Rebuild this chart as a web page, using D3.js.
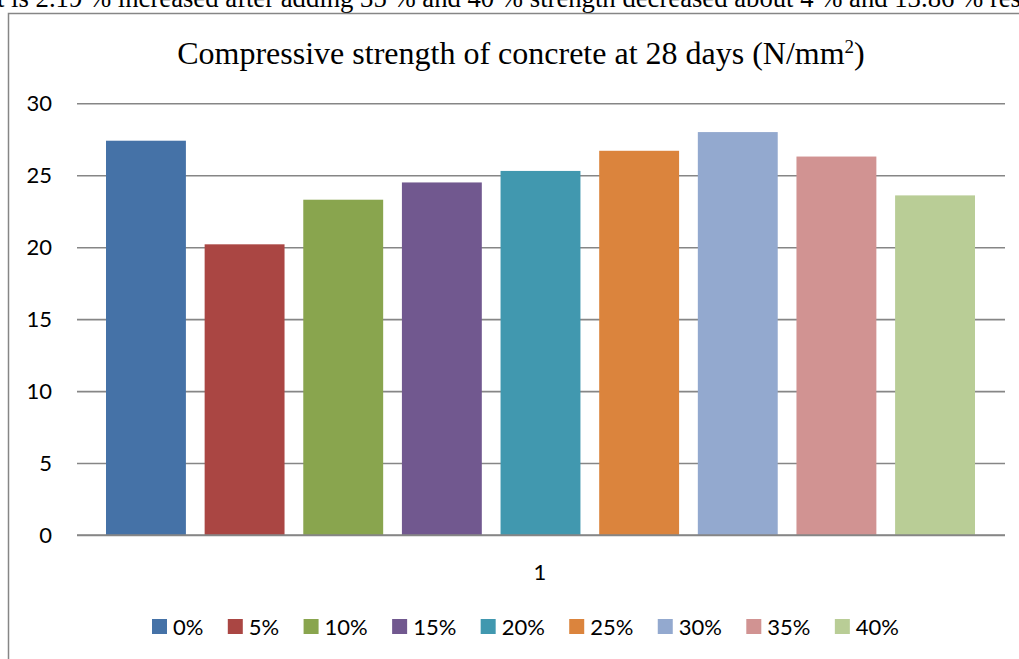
<!DOCTYPE html>
<html><head><meta charset="utf-8">
<script src="https://cdn.jsdelivr.net/npm/d3@7"></script>
<style>body{margin:0;background:#fff}svg{display:block}</style>
</head><body>
<script>
const categories = ["1"];
const seriesNames = ["0%","5%","10%","15%","20%","25%","30%","35%","40%"];
const seriesValues = [27.4, 20.2, 23.3, 24.5, 25.3, 26.7, 28.0, 26.3, 23.6];
const seriesColors = ["#4572A7","#AA4643","#89A54E","#71588F","#4198AF","#DB843D","#93A9CF","#D19392","#B9CD96"];
const yTicks = [0,5,10,15,20,25,30];
const titleText = "Compressive strength of concrete at 28 days (N/mm";
const topText = "t is 2.19 % increased after adding 35 % and 40 % strength decreased about 4 % and 13.86 % res";

const W = 1019, H = 659;
const svg = d3.select("body").append("svg").attr("width", W).attr("height", H);

// cut-off text line above the chart (cut in the reference too)
svg.append("text").attr("x", -3).attr("y", 7)
  .attr("font-family", "'Liberation Serif', serif").attr("font-size", 26.5)
  .attr("textLength", 1024).attr("lengthAdjust", "spacingAndGlyphs")
  .attr("fill", "#000").text(topText);

// chart border
svg.append("path").attr("d", `M8.5,${H} V13.5 H${W}`)
  .attr("fill", "none").attr("stroke", "#868686").attr("stroke-width", 1.5);

// title
const t = svg.append("text").attr("x", 521).attr("y", 64).attr("text-anchor", "middle")
  .attr("font-family", "'Liberation Serif', serif").attr("font-size", 32).attr("fill", "#000");
t.append("tspan").text(titleText);
t.append("tspan").attr("font-size", 19).attr("dy", -11).text("2");
t.append("tspan").attr("dy", 11).text(")");

const plotL = 77, plotR = 1005, plotT = 103.3, plotB = 535;
const y = d3.scaleLinear().domain([0, 30]).range([plotB, plotT]);
const x0 = d3.scaleBand().domain(categories).range([plotL, plotR]).paddingInner(0).paddingOuter(0);
const x1 = d3.scaleBand().domain(seriesNames)
  .range([x0("1") + 29, x0("1") + x0.bandwidth() - 30]).paddingInner(0.19).paddingOuter(0);

// gridlines
const yAxis = d3.axisLeft(y).tickValues(yTicks).tickSize(-(plotR - plotL)).tickPadding(25).tickFormat(d3.format("d"));
const ga = svg.append("g").attr("transform", `translate(${plotL},0)`).call(yAxis);
ga.select(".domain").remove();
ga.selectAll(".tick line").attr("stroke", "#868686").attr("stroke-width", 1.6);
ga.selectAll(".tick text").attr("font-family", "Lato, 'Open Sans', sans-serif").attr("font-size", 22).attr("fill", "#000");

// bars
const data = seriesNames.map((s, i) => ({s, v: seriesValues[i], c: seriesColors[i]}));
svg.append("g").selectAll("rect").data(data).join("rect")
  .attr("x", d => x1(d.s)).attr("width", x1.bandwidth())
  .attr("y", d => y(d.v)).attr("height", d => y(0) - y(d.v))
  .attr("fill", d => d.c);

// baseline over bars
svg.append("line").attr("x1", plotL).attr("x2", plotR).attr("y1", y(0)).attr("y2", y(0))
  .attr("stroke", "#868686").attr("stroke-width", 1.6);

// category label
svg.append("g").selectAll("text").data(categories).join("text")
  .attr("x", d => x0(d) + x0.bandwidth() / 2 - 1).attr("y", 580).attr("text-anchor", "middle")
  .attr("font-family", "Lato, 'Open Sans', sans-serif").attr("font-size", 22).attr("fill", "#000")
  .text(d => d);

// legend
const legStart = 152, legEnd = 899, sq = 15, sqGap = 6;
const leg = svg.append("g");
const items = leg.selectAll("g").data(data).join("g");
items.append("rect").attr("width", sq).attr("height", sq).attr("y", 619).attr("fill", d => d.c);
items.append("text").attr("x", sq + sqGap).attr("y", 634.5)
  .attr("font-family", "Lato, 'Open Sans', sans-serif").attr("font-size", 22).attr("fill", "#000")
  .text(d => d.s);
const widths = [];
items.each(function() { widths.push(sq + sqGap + d3.select(this).select("text").node().getComputedTextLength()); });
const gap = (legEnd - legStart - d3.sum(widths)) / (widths.length - 1);
let cx = legStart;
items.each(function(d, i) { d3.select(this).attr("transform", `translate(${cx},0)`); cx += widths[i] + gap; });
</script>
</body></html>
